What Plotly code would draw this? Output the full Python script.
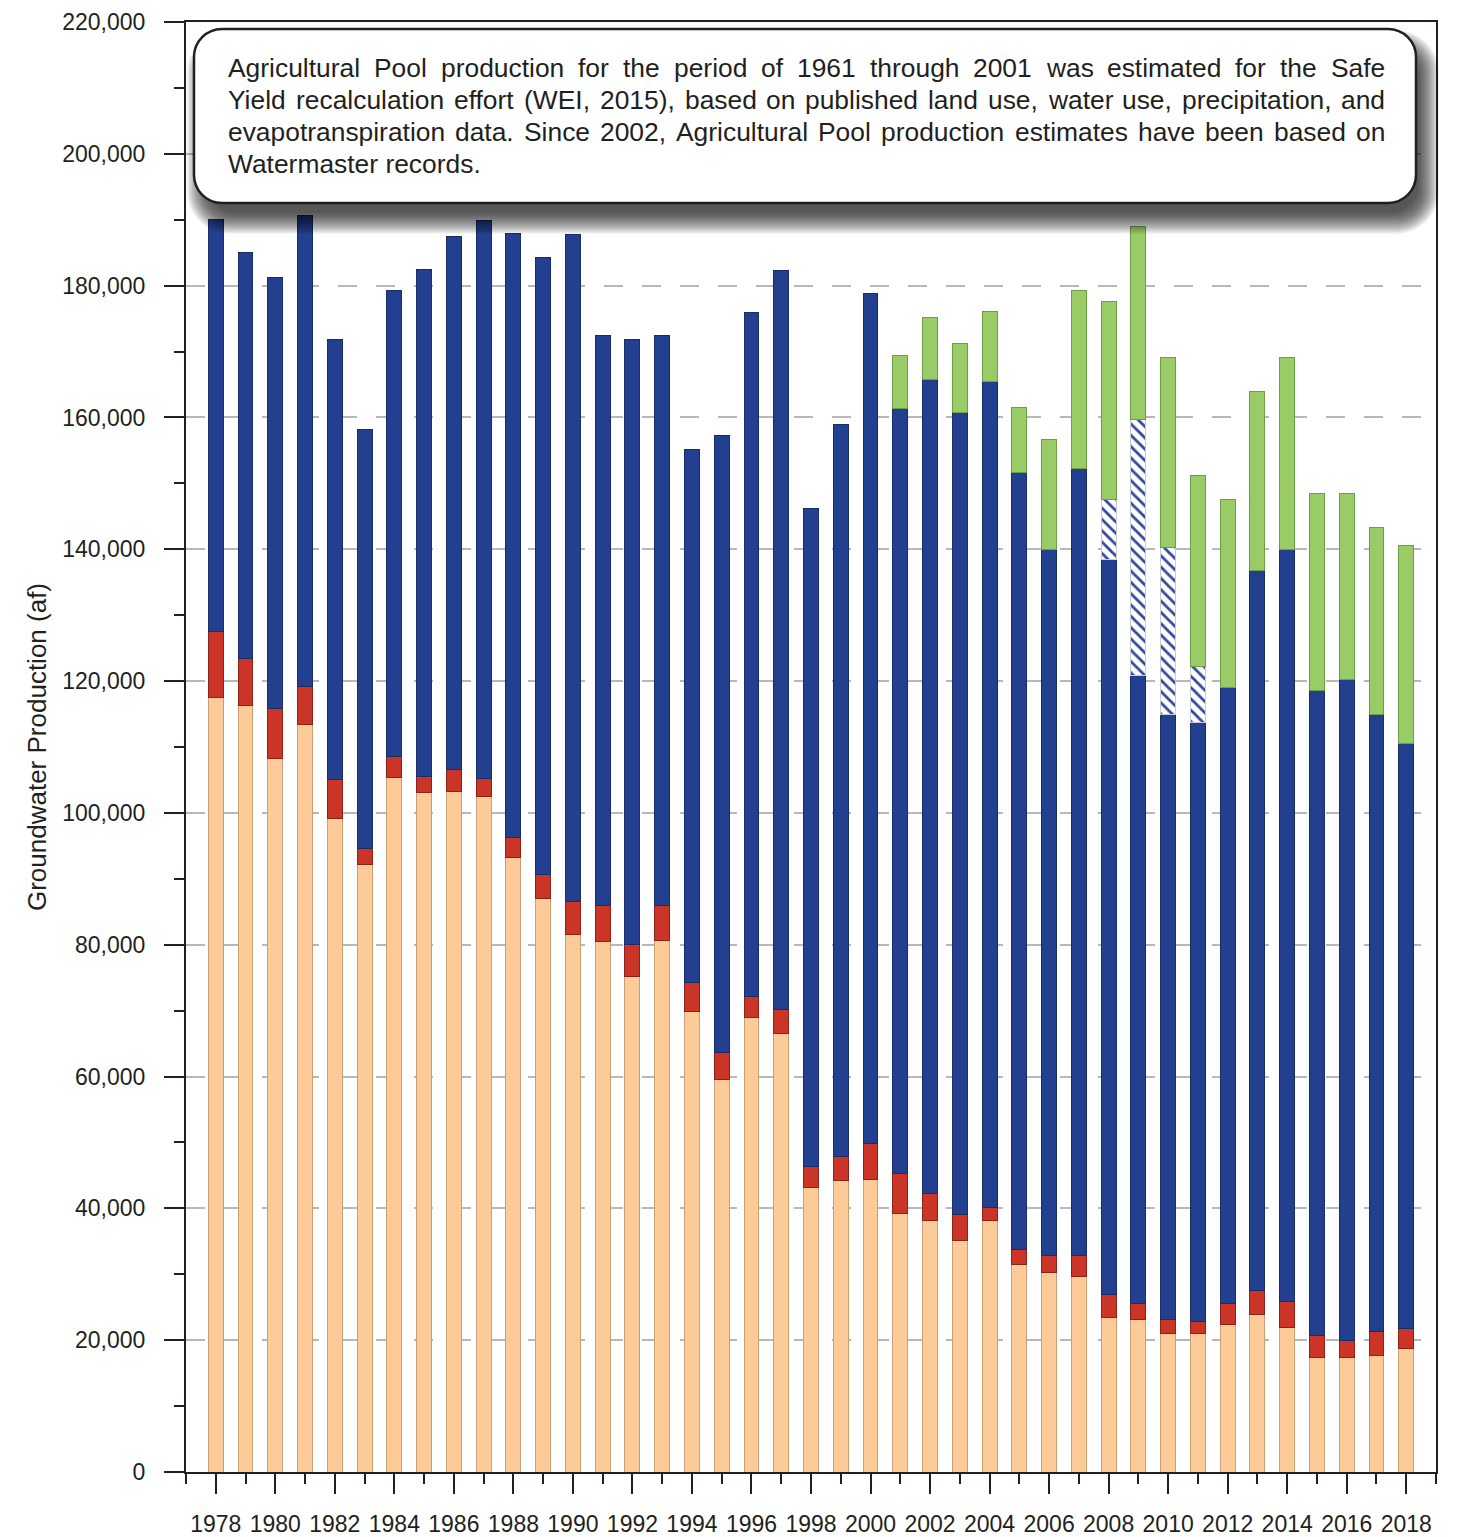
import plotly.graph_objects as go

# ---------------- data (acre-feet, segment values) ----------------
years = list(range(1978, 2019))

ag_pool = [117500, 116300, 108200, 113400, 99200, 92100, 105300, 103100, 103300, 102500,
           93300, 87000, 81500, 80500, 75200, 80700, 69900, 59500, 69000, 66500,
           43100, 44200, 44400, 39200, 38100, 35100, 38100, 31500, 30200, 29600,
           23500, 23200, 21000, 21000, 22400, 23900, 22000, 17300, 17300, 17700, 18800]

red_pool = [10000, 7200, 7600, 5800, 5800, 2500, 3300, 2500, 3300, 2700,
            3000, 3700, 5000, 5500, 4800, 5200, 4300, 4200, 3200, 3600,
            3300, 3600, 5500, 6100, 4200, 3900, 2100, 2200, 2600, 3200,
            3400, 2400, 2100, 1900, 3100, 3600, 3800, 3400, 2700, 3600, 2900]

blue_pool = [62600, 61500, 65400, 71500, 66900, 63600, 70600, 76900, 80900, 84700,
             91600, 93600, 101300, 86500, 91800, 86600, 81000, 93600, 103800, 112200,
             99800, 111200, 128900, 116100, 123400, 121800, 125300, 118000, 107200, 119400,
             111600, 95200, 91900, 90800, 93600, 109300, 114100, 97800, 100200, 93700, 88800]

hatched = [0] * 30 + [9000, 38900, 25200, 8500] + [0] * 7

green = [0] * 23 + [8000, 9500, 10400, 10600, 9800, 16600, 27100,
                    30100, 29200, 28900, 29000, 28500, 27100, 29200, 30000, 28200, 28300, 30100]

even_years = list(range(1978, 2019, 2))
even_labels = [str(y) for y in even_years]

note_lines = [
    "Agricultural Pool production for the period of 1961 through 2001 was estimated for the Safe",
    "Yield recalculation effort (WEI, 2015), based on published land use, water use, precipitation, and",
    "evapotranspiration data. Since 2002, Agricultural Pool production estimates have been based on",
    "Watermaster records.",
]

# ---------------- layout geometry (page pixels) ----------------
W, H = 1457, 1537
BODY = 8                      # default page margin of the html body
L, T, PW, PH = 186, 22, 1250, 1450
FW, FH = W - BODY, H - BODY
TXT = "#231F20"
FONT = "Liberation Sans, Arial, sans-serif"


def px(x, y):
    return (x - L) / PW, (T + PH - y) / PH


def rrect_path(x0, y0, x1, y1, r):
    k = 0.5523 * r

    def P(x, y):
        a, b = px(x, y)
        return f"{a:.6f},{b:.6f}"

    d = f"M {P(x0 + r, y0)} L {P(x1 - r, y0)} "
    d += f"C {P(x1 - r + k, y0)} {P(x1, y0 + r - k)} {P(x1, y0 + r)} "
    d += f"L {P(x1, y1 - r)} "
    d += f"C {P(x1, y1 - r + k)} {P(x1 - r + k, y1)} {P(x1 - r, y1)} "
    d += f"L {P(x0 + r, y1)} "
    d += f"C {P(x0 + r - k, y1)} {P(x0, y1 - r + k)} {P(x0, y1 - r)} "
    d += f"L {P(x0, y0 + r)} "
    d += f"C {P(x0, y0 + r - k)} {P(x0 + r - k, y0)} {P(x0 + r, y0)} Z"
    return d


def nz(vals):
    return [v if v else None for v in vals]


fig = go.Figure()

fig.add_bar(x=years, y=nz(ag_pool), width=0.5, marker=dict(color="#FDCB97", line=dict(color="#C99F76", width=1)))
fig.add_bar(x=years, y=nz(red_pool), width=0.5, marker=dict(color="#CB3527", line=dict(color="#8E2218", width=1)))
fig.add_bar(x=years, y=nz(blue_pool), width=0.5, marker=dict(color="#233F8F", line=dict(color="#182C66", width=1)))
fig.add_bar(x=years, y=nz(hatched), width=0.5,
            marker=dict(color="white", line=dict(color="#C8CCD8", width=1),
                        pattern=dict(shape="\\", fgcolor="#34489A", bgcolor="white",
                                     size=8, solidity=0.35, fillmode="replace")))
fig.add_bar(x=years, y=nz(green), width=0.5, marker=dict(color="#99CB66", line=dict(color="#6E9E45", width=1)))

shapes = []
# box shadow
bx0, by0, bx1, by1, br = 194, 29, 1416, 203, 28
n_layers = 14
for i in range(n_layers):
    e = -6 + i * 1.6
    shapes.append(dict(type="path", xref="paper", yref="paper",
                       path=rrect_path(bx0 + 8 - e, by0 + 16 - e, bx1 + 8 + e, by1 + 16 + e, br + max(e, 0)),
                       fillcolor="rgba(0,0,0,0.07)", line=dict(width=0)))
shapes.append(dict(type="path", xref="paper", yref="paper",
                   path=rrect_path(bx0, by0, bx1, by1, br),
                   fillcolor="white", line=dict(color=TXT, width=2.5)))

# justified note text using Arial metrics
AW = {' ': 278, ',': 278, '.': 278, '(': 333, ')': 333}
for ch in "0123456789":
    AW[ch] = 556
AW.update(dict(a=556, b=556, c=500, d=556, e=556, f=278, g=556, h=556, i=222, j=222, k=500, l=222, m=833,
               n=556, o=556, p=556, q=556, r=333, s=500, t=278, u=556, v=500, w=722, x=500, y=500, z=500))
AW.update(dict(A=667, B=667, C=722, D=722, E=667, F=611, G=778, H=722, I=278, J=500, K=667, L=556,
               M=833, N=722, O=778, P=667, Q=778, R=722, S=667, T=611, U=722, V=667, W=944, X=667,
               Y=667, Z=611))
FS = 26.4


def wpx(s):
    return sum(AW.get(c, 556) for c in s) * FS / 1000.0


annotations = []
tx0, tx1 = 226, 1383
line_y = [68, 100, 132, 164]
for li, line in enumerate(note_lines):
    yy = px(0, line_y[li])[1]
    if li == len(note_lines) - 1:
        annotations.append(dict(text=line, x=px(tx0, 0)[0], y=yy, xref="paper", yref="paper",
                                xanchor="left", yanchor="middle", showarrow=False,
                                font=dict(family=FONT, size=FS, color=TXT)))
        continue
    words = line.split(" ")
    widths = [wpx(w_) for w_ in words]
    gap = (tx1 - tx0 - sum(widths)) / (len(words) - 1)
    cx = tx0
    for w_, ww in zip(words, widths):
        annotations.append(dict(text=w_, x=px(cx, 0)[0], y=yy, xref="paper", yref="paper",
                                xanchor="left", yanchor="middle", showarrow=False,
                                font=dict(family=FONT, size=FS, color=TXT)))
        cx += ww + gap

fig.update_layout(
    width=FW, height=FH,
    margin=dict(l=L - BODY, r=FW - (L - BODY) - PW, t=T - BODY, b=FH - (T - BODY) - PH, autoexpand=False),
    barmode="stack",
    showlegend=False,
    plot_bgcolor="white", paper_bgcolor="white",
    shapes=shapes,
    annotations=annotations,
    font=dict(family=FONT, color=TXT),
)

fig.update_xaxes(
    range=[1977, 2019], tickmode="array", tickvals=even_years, ticktext=even_labels,
    ticks="outside", ticklen=20, tickwidth=2, tickcolor=TXT,
    tickfont=dict(family=FONT, size=23, color=TXT), ticklabelstandoff=10,
    showline=True, linewidth=2, linecolor=TXT, mirror=True,
    showgrid=False, zeroline=False,
    minor=dict(ticks="outside", ticklen=10, tickwidth=2, tickcolor=TXT, dtick=1, tick0=1977, showgrid=False),
)

fig.update_yaxes(
    range=[0, 220000], dtick=20000, tick0=0, tickformat=",d",
    ticks="outside", ticklen=20, tickwidth=2, tickcolor=TXT,
    tickfont=dict(family=FONT, size=23, color=TXT), ticklabelstandoff=14,
    showline=True, linewidth=2, linecolor=TXT, mirror=True,
    showgrid=True, gridcolor="#B8B8B8", gridwidth=2, griddash="19px,19px",
    zeroline=False,
    minor=dict(ticks="outside", ticklen=10, tickwidth=2, tickcolor=TXT, dtick=10000, showgrid=False),
    title=dict(text="Groundwater Production (af)", font=dict(family=FONT, size=26, color=TXT), standoff=8),
)

fig.write_html("out.html")
